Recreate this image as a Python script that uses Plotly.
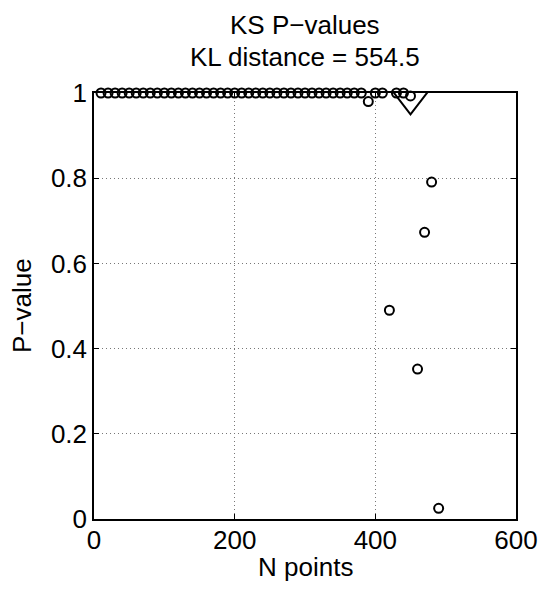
import plotly.graph_objects as go

# KS test p-values against sample size
n_top = [10, 20, 30, 40, 50, 60, 70, 80, 90, 100, 110, 120, 130, 140, 150,
         160, 170, 180, 190, 200, 210, 220, 230, 240, 250, 260, 270, 280, 290,
         300, 310, 320, 330, 340, 350, 360, 370, 380, 400, 410, 430, 440]
p_top = [1.0] * len(n_top)

n_rest = [390, 420, 450, 460, 470, 480, 490]
p_rest = [0.98, 0.49, 0.993, 0.352, 0.673, 0.791, 0.025]

n_points = n_top + n_rest
p_values = p_top + p_rest

# marker for the selected sample size
n_mark = [450]
p_mark = [0.985]

title_lines = ["KS P\u2212values", "KL distance = 554.5"]
x_ticks = [0, 200, 400, 600]
y_ticks = [0, 0.2, 0.4, 0.6, 0.8, 1]

FONT = "Liberation Sans, Arial, Helvetica, sans-serif"
FS = 26

fig = go.Figure()
fig.add_trace(go.Scatter(
    x=n_points, y=p_values, mode="markers", cliponaxis=False,
    marker=dict(symbol="circle-open", size=9, color="black",
                line=dict(color="black", width=2)),
    showlegend=False,
))
fig.add_trace(go.Scatter(
    x=n_mark, y=p_mark, mode="markers", cliponaxis=False,
    marker=dict(symbol="triangle-down-open", size=30, color="black",
                line=dict(color="black", width=2)),
    showlegend=False,
))

axis_common = dict(
    showline=True, linecolor="black", linewidth=1.5, mirror="ticks",
    ticks="inside", ticklen=5, tickcolor="black", tickwidth=1,
    showgrid=True, gridcolor="#777777", gridwidth=1, griddash="1px,3px",
    zeroline=False, tickfont=dict(size=FS, color="black", family=FONT),
)

fig.update_layout(
    width=550, height=589,
    margin=dict(l=94, r=30, t=93, b=70),
    paper_bgcolor="white", plot_bgcolor="white",
    font=dict(family=FONT, color="black", size=FS),
    xaxis=dict(range=[0, 600], tickvals=x_ticks, ticklabelstandoff=-3,
               **axis_common),
    yaxis=dict(range=[0, 1], tickvals=y_ticks, **axis_common),
    annotations=[
        dict(text=title_lines[0], xref="paper", yref="paper", x=0.5, y=1,
             yshift=68, xanchor="center", yanchor="middle", showarrow=False,
             font=dict(size=FS)),
        dict(text=title_lines[1], xref="paper", yref="paper", x=0.5, y=1,
             yshift=36, xanchor="center", yanchor="middle", showarrow=False,
             font=dict(size=FS)),
        dict(text="N points", xref="paper", yref="paper", x=0.5, y=0,
             yshift=-48, xanchor="center", yanchor="middle", showarrow=False,
             font=dict(size=FS)),
        dict(text="P\u2212value", xref="paper", yref="paper", x=0, y=0.5,
             xshift=-72, xanchor="center", yanchor="middle", showarrow=False,
             textangle=-90, font=dict(size=FS)),
    ],
)

fig.write_html("out.html")
